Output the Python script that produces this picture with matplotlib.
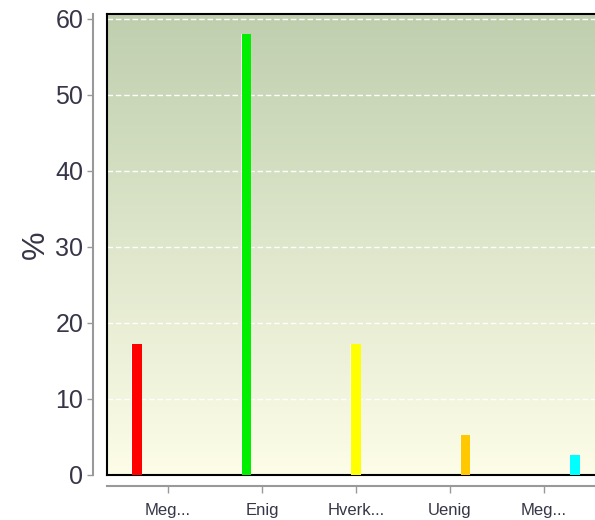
import matplotlib
matplotlib.use("Agg")
import matplotlib.pyplot as plt
import numpy as np
from matplotlib.colors import LinearSegmentedColormap

plt.rcParams['font.family'] = ['Liberation Sans', 'DejaVu Sans']

categories = ["Meg...", "Enig", "Hverk...", "Uenig", "Meg..."]
values = [17.2, 58.0, 17.2, 5.3, 2.6]
colors = ["#ff0000", "#00ee00", "#ffff00", "#ffc800", "#00ffff"]
yticks = [0, 10, 20, 30, 40, 50, 60]

fig = plt.figure(figsize=(5.95, 5.2), dpi=100)
rect = [107 / 595, 1 - 475 / 520, 491 / 595, 461 / 520]
ax = fig.add_axes(rect)
ymax = 60.6
xmin, xmax = -0.649, 4.574

# gradient background
grad = np.linspace(0, 1, 256).reshape(-1, 1)
cmap = LinearSegmentedColormap.from_list("bg", ["#fdfde8", "#bfcfae"])
ax.imshow(grad, aspect="auto", cmap=cmap, origin="lower",
          extent=[xmin, xmax, 0, ymax], zorder=0)

for y in yticks[1:]:
    ax.axhline(y, color="white", lw=1, ls=(0, (4, 2)), zorder=1)

step = 0.165
w = 0.1
n = len(categories)
for i, (v, c) in enumerate(zip(values, colors)):
    x = i + (i - (n - 1) / 2) * step
    ax.bar(x - 0.012, v, width=w, color="white", alpha=0.8, zorder=2)
    ax.bar(x, v, width=w, color=c, zorder=3)

ax.set_xlim(xmin, xmax)
ax.set_ylim(0, ymax)
ax.set_xticks([])
ax.set_yticks([])
for s in ax.spines.values():
    s.set_color("black")
    s.set_linewidth(1.5)

# separate axis lines
ax2 = fig.add_axes(rect)
ax2.set_xlim(xmin, xmax)
ax2.set_ylim(0, ymax)
ax2.patch.set_visible(False)
ax2.spines['top'].set_visible(False)
ax2.spines['right'].set_visible(False)
ax2.spines['left'].set_position(('outward', 10))
ax2.spines['bottom'].set_position(('outward', 8))
for k in ['left', 'bottom']:
    ax2.spines[k].set_color("#999999")
    ax2.spines[k].set_linewidth(1.5)
ax2.set_yticks(yticks)
ax2.set_xticks(range(n))
ax2.set_xticklabels(categories)
ax2.tick_params(axis='y', length=4, width=1, color="#999999",
                labelsize=18, labelcolor="#363648", pad=3)
ax2.tick_params(axis='x', length=5, width=1, color="#999999",
                labelsize=12, labelcolor="#363648", pad=7)
ax2.set_ylabel("%", fontsize=23, color="#363648", labelpad=3)

fig.savefig("out.png", dpi=100)
